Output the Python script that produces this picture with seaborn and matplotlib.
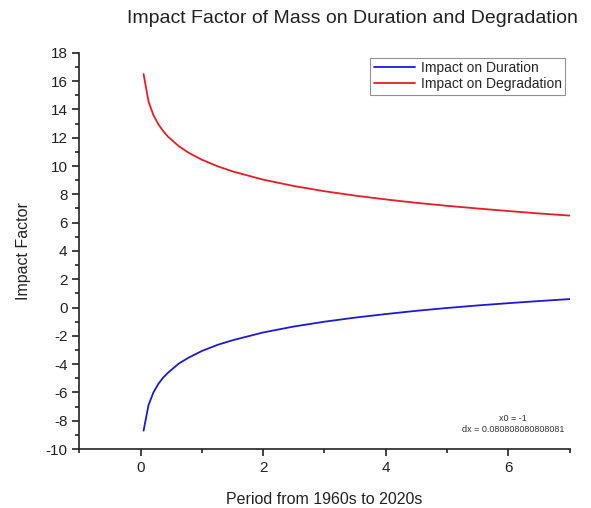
import numpy as np
import pandas as pd
import matplotlib
matplotlib.use("Agg")
import matplotlib.pyplot as plt
from matplotlib.ticker import MultipleLocator
import seaborn as sns

# values (x grid starts at x0=-1, dx=0.0808...)
period = [0.05, 0.13, 0.21, 0.29, 0.37, 0.45, 0.62, 0.78, 1.0, 1.26, 1.51,
          2.0, 2.5, 3.0, 3.5, 4.0, 4.5, 5.0, 5.5, 6.0, 6.5, 7.0]
impact_duration = [-8.7, -6.9, -6.0, -5.4, -4.95, -4.6, -3.97, -3.55, -3.07, -2.63, -2.3,
                   -1.76, -1.34, -1.0, -0.71, -0.46, -0.23, -0.03, 0.15, 0.31, 0.46, 0.6]
impact_degradation = [16.5, 14.57, 13.6, 12.96, 12.47, 12.07, 11.42, 10.95, 10.45, 9.98, 9.61,
                      9.04, 8.59, 8.22, 7.91, 7.64, 7.4, 7.19, 7.0, 6.82, 6.65, 6.5]
series_names = ["Impact on Duration", "Impact on Degradation"]
series_colors = ["#1a1adc", "#e81c24"]

df = pd.DataFrame({
    "period": period * 2,
    "impact": impact_duration + impact_degradation,
    "series": [series_names[0]] * len(period) + [series_names[1]] * len(period),
})

sns.set_style("ticks")
plt.rcParams["font.family"] = ["Liberation Sans", "DejaVu Sans"]
plt.rcParams["axes.unicode_minus"] = False

fig = plt.figure(figsize=(5.91, 5.08), dpi=100)
ax = fig.add_axes([0.134, 0.116, 0.830, 0.780])

sns.lineplot(data=df, x="period", y="impact", hue="series", hue_order=series_names,
             palette=series_colors, linewidth=1.3, ax=ax)

ax.set_xlim(-1, 7)
ax.set_ylim(-10, 18)
ax.xaxis.set_major_locator(MultipleLocator(2))
ax.xaxis.set_minor_locator(MultipleLocator(1))
ax.yaxis.set_major_locator(MultipleLocator(2))
ax.yaxis.set_minor_locator(MultipleLocator(1))
ax.tick_params(which="major", length=5, width=1.2, labelsize=11, colors="#222222")
ax.tick_params(which="minor", length=3, width=1.2)
for s in ["left", "bottom"]:
    ax.spines[s].set_linewidth(1.2)
    ax.spines[s].set_color("#222222")
sns.despine(ax=ax)

ax.set_xlabel("Period from 1960s to 2020s", fontsize=11.5, labelpad=12, color="#222222")
ax.set_ylabel("Impact Factor", fontsize=11.5, labelpad=10, color="#222222")

fig.text(0.597, 0.964, "Impact Factor of Mass on Duration and Degradation",
         ha="center", va="center", fontsize=14, color="#222222")

leg = ax.legend(loc="upper right", bbox_to_anchor=(0.997, 0.995), fontsize=10,
                frameon=True, fancybox=False, borderpad=0.25, handlelength=3,
                handletextpad=0.4, labelspacing=0.15, borderaxespad=0.2)
leg.get_frame().set_edgecolor("#777777")
leg.get_frame().set_linewidth(0.8)

ax.text(0.885, 0.063, "x0 = -1\ndx = 0.080808080808081", transform=ax.transAxes,
        ha="center", va="center", fontsize=6.5, color="#333333", linespacing=1.3)

fig.savefig("out.png", dpi=100)
